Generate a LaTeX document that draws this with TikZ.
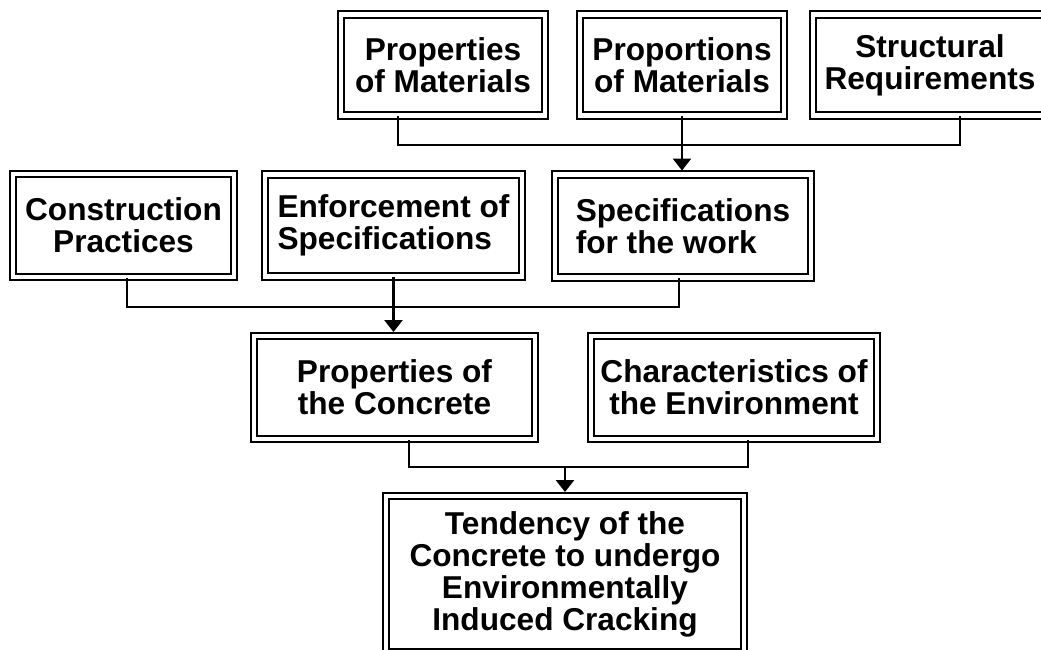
\documentclass[tikz,border=0pt]{standalone}
\usepackage{fontspec}
\setmainfont{Liberation Sans}
\usetikzlibrary{arrows.meta}

\begin{document}
\begin{tikzpicture}[x=0.02cm,y=-0.02cm,
  box/.style={draw, double, line width=1.1pt, double distance=2.5pt, inner sep=0pt,
    align=center, font=\bfseries\fontsize{18}{18.2}\selectfont},
  link/.style={line width=1.4pt},
  arr/.style={link, shorten >=0.06cm, -{Triangle[width=0.36cm,length=0.24cm]}}]
\useasboundingbox[fill=white] (0,0) rectangle (1041,649);

%Top row
\node[box, minimum width=4.08cm, minimum height=2.02cm] (pm) at (443,65) {Properties\\of Materials};
\node[box, minimum width=4.08cm, minimum height=2.02cm] (prm) at (682,65) {Proportions\\of Materials};
\node[box, minimum width=4.68cm, minimum height=2.02cm] (sr) at (930,65) {Structural\\Requirements};

%Second row
\node[box, minimum width=4.42cm, minimum height=2.06cm] (cp) at (123.5,225.5) {Construction\\Practices};
\node[box, minimum width=5.14cm, minimum height=2.04cm, align=left] (es) at (393.5,225.5) {Enforcement of\\Specifications};
\node[box, minimum width=5.12cm, minimum height=2.06cm, align=left] (sw) at (683,226) {Specifications\\for the work};

%Third row
\node[box, minimum width=5.62cm, minimum height=2.06cm] (pc) at (394.5,387.5) {Properties of\\the Concrete};
\node[box, minimum width=5.72cm, minimum height=2.06cm] (ce) at (734,387.5) {Characteristics of\\the Environment};

%Result
\node[box, minimum width=7.16cm, minimum height=3.12cm] (tc) at (565,574) {Tendency of the\\Concrete to undergo\\Environmentally\\Induced Cracking};

%Links
\coordinate (j1) at (682,145);
\draw[link] ([xshift=-0.9cm]pm.south) |- (j1) -| ([xshift=0.6cm]sr.south);
\draw[arr] (prm.south) -- (prm.south |- sw.north);

\coordinate (j2) at (393.5,307);
\draw[link] ([xshift=0.07cm]cp.south) |- (j2) -| ([xshift=-0.08cm]sw.south);
\draw[arr] (es.south) -- (es.south |- pc.north);

\coordinate (j3) at (565,467);
\draw[link] ([xshift=0.29cm]pc.south) |- (j3) -| ([xshift=0.28cm]ce.south);
\draw[arr] (j3) -- (tc.north);
\end{tikzpicture}
\end{document}
